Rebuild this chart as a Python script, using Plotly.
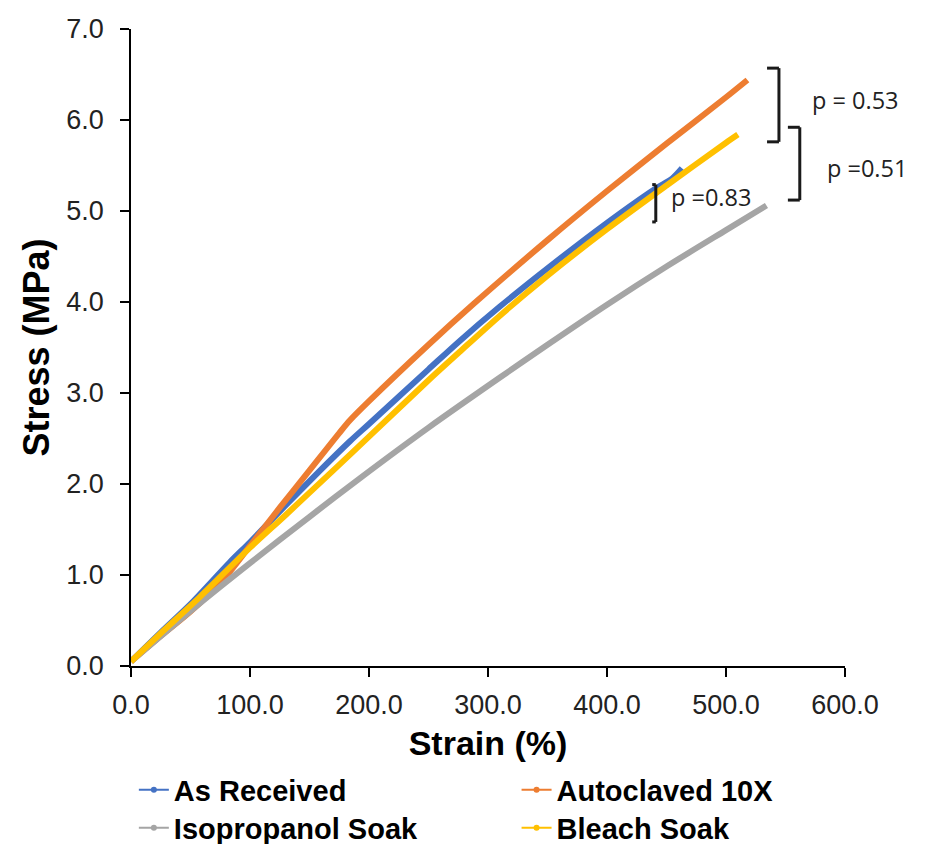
import plotly.graph_objects as go

# ---- data ----
series_names = ["As Received", "Autoclaved 10X", "Isopropanol Soak", "Bleach Soak"]
series_colors = ["#4472C4", "#ED7D31", "#A5A5A5", "#FFC000"]

strain_as_received = [0, 25, 50, 83, 100, 125, 159, 184, 200, 250, 276, 310, 350, 400, 440, 455, 463]
stress_as_received = [0.05, 0.37, 0.68, 1.14, 1.36, 1.70, 2.15, 2.47, 2.66, 3.26, 3.57, 3.95, 4.37, 4.87, 5.24, 5.36, 5.47]

strain_autoclaved = [0, 25, 50, 75, 100, 125, 150, 175, 184, 200, 250, 288, 350, 400, 450, 500, 518]
stress_autoclaved = [0.05, 0.33, 0.60, 0.91, 1.32, 1.74, 2.15, 2.56, 2.70, 2.91, 3.53, 3.98, 4.68, 5.22, 5.74, 6.25, 6.44]

strain_isopropanol = [0, 58, 100, 150, 192, 250, 310, 350, 400, 450, 500, 534]
stress_isopropanol = [0.05, 0.69, 1.13, 1.64, 2.06, 2.62, 3.17, 3.53, 3.97, 4.39, 4.79, 5.06]

strain_bleach = [0, 25, 58, 100, 130, 170, 200, 250, 276, 310, 350, 400, 450, 500, 510]
stress_bleach = [0.05, 0.36, 0.76, 1.30, 1.66, 2.15, 2.52, 3.14, 3.45, 3.85, 4.29, 4.80, 5.28, 5.75, 5.84]

x_ticks = [0, 100, 200, 300, 400, 500, 600]
y_ticks = [0, 1, 2, 3, 4, 5, 6, 7]

# significance brackets: (x_vertical, x_arm_end, y_top, y_bottom)
bracket_x = [544.5, 562.0, 441.0]
bracket_arm = [534.5, 552.0, 438.0]
bracket_top = [6.57, 5.92, 5.29]
bracket_bottom = [5.76, 5.12, 4.88]
p_labels = ["p = 0.53", "p =0.51", "p =0.83"]
p_label_x = [570.6, 583.0, 452.0]
p_label_y = [6.22, 5.47, 5.15]

# legend layout: one legend box per entry (2 columns x 2 rows)
legend_ids = ["legend", "legend2", "legend3", "legend4"]
legend_x = [0.004, 0.540, 0.004, 0.540]
legend_y = [-0.1947, -0.1947, -0.2543, -0.2543]

xs = [strain_as_received, strain_autoclaved, strain_isopropanol, strain_bleach]
ys = [stress_as_received, stress_autoclaved, stress_isopropanol, stress_bleach]

fig = go.Figure()
for name, color, x, y in zip(series_names, series_colors, xs, ys):
    fig.add_trace(go.Scatter(x=x, y=y, mode="lines", name=name, showlegend=False,
                             line=dict(color=color, width=6, shape="spline", smoothing=0.8)))
# legend-only entries (thin line with dot, as in the reference)
for name, color, lg in zip(series_names, series_colors, legend_ids):
    fig.add_trace(go.Scatter(x=[None], y=[None], mode="lines+markers", name=name, legend=lg,
                             line=dict(color=color, width=2),
                             marker=dict(color=color, size=6)))

shapes = []
for xv, xa, yt, yb in zip(bracket_x, bracket_arm, bracket_top, bracket_bottom):
    for seg in [(xa, yt, xv, yt), (xv, yt, xv, yb), (xv, yb, xa, yb)]:
        shapes.append(dict(type="line", xref="x", yref="y",
                           x0=seg[0], y0=seg[1], x1=seg[2], y1=seg[3],
                           line=dict(color="#1a1a1a", width=3)))

annotations = []
for txt, px, py in zip(p_labels, p_label_x, p_label_y):
    annotations.append(dict(x=px, y=py, xref="x", yref="y", text=txt, showarrow=False,
                            xanchor="left", yanchor="middle",
                            font=dict(family="Open Sans", size=23.5, color="#222222")))

legend_font = dict(family="Liberation Sans, Arial", size=29, color="black", weight="bold")
legend_layout = {}
for lg, lx, ly in zip(legend_ids, legend_x, legend_y):
    legend_layout[lg] = dict(orientation="v", x=lx, xanchor="left", y=ly, yanchor="middle",
                             font=legend_font, itemwidth=30, bgcolor="rgba(0,0,0,0)")

fig.update_layout(
    width=924, height=836,
    margin=dict(l=123, r=87, t=21, b=178, autoexpand=False),
    paper_bgcolor="white", plot_bgcolor="white",
    shapes=shapes, annotations=annotations,
    font=dict(family="Liberation Sans, Arial", color="#222222"),
    **legend_layout,
)
fig.update_xaxes(range=[0, 600], tickvals=x_ticks, tickformat=".1f",
                 showgrid=False, zeroline=False, showline=True, linecolor="black", linewidth=1.5,
                 ticks="outside", ticklen=9, tickwidth=1.5, tickcolor="black",
                 ticklabelstandoff=5,
                 tickfont=dict(size=27, color="#222222"),
                 title=dict(text="<b>Strain (%)</b>", font=dict(size=34, color="black"), standoff=12))
fig.update_yaxes(range=[0, 7], tickvals=y_ticks, tickformat=".1f",
                 showgrid=False, zeroline=False, showline=True, linecolor="black", linewidth=1.5,
                 ticks="outside", ticklen=9, tickwidth=1.5, tickcolor="black",
                 ticklabelstandoff=11,
                 tickfont=dict(size=27, color="#222222"),
                 title=dict(text="<b>Stress (MPa)</b>", font=dict(size=36, color="black"), standoff=6))

fig.write_html("out.html")
